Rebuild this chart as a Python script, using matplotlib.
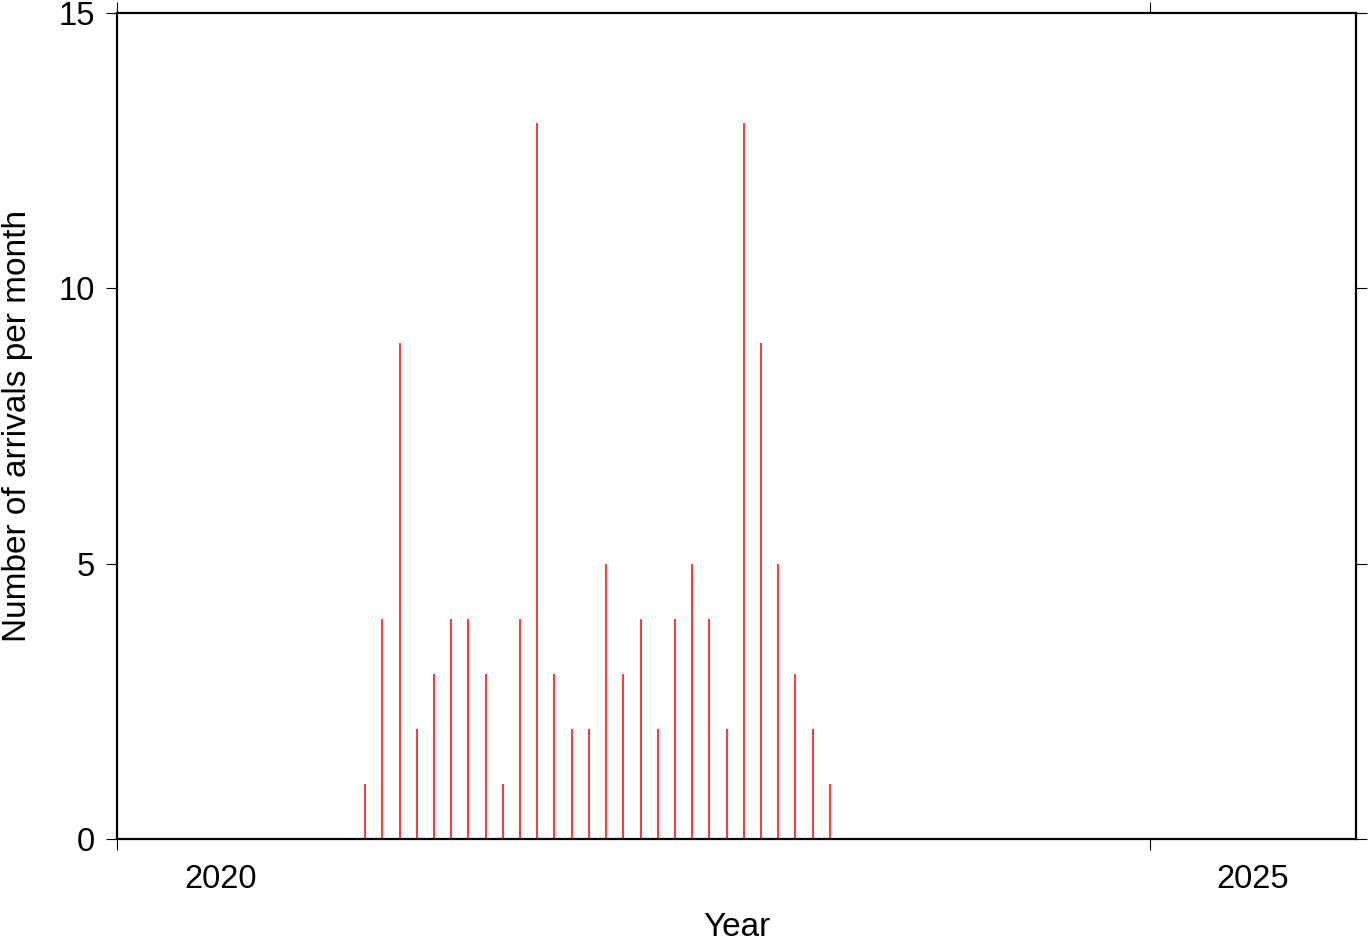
import numpy as np
import matplotlib.pyplot as plt

# monthly counts, Mar 2021 .. Jun 2023
months = ["2021-03", "2021-04", "2021-05", "2021-06", "2021-07", "2021-08", "2021-09",
          "2021-10", "2021-11", "2021-12", "2022-01", "2022-02", "2022-03", "2022-04",
          "2022-05", "2022-06", "2022-07", "2022-08", "2022-09", "2022-10", "2022-11",
          "2022-12", "2023-01", "2023-02", "2023-03", "2023-04", "2023-05", "2023-06"]
counts = [1, 4, 9, 2, 3, 4, 4, 3, 1, 4, 13, 3, 2, 2,
          5, 3, 4, 2, 4, 5, 4, 2, 13, 9, 5, 3, 2, 1]

year_ticks = [2020, 2025]
year_labels = ["2020", "2025"]

# decimal year, a bit before mid-month
x = np.array([int(m[:4]) + (int(m[5:]) - 1 + 0.42) / 12 for m in months])

plt.rcParams['font.family'] = ['Liberation Sans', 'DejaVu Sans']

fig = plt.figure(figsize=(13.69, 9.42), dpi=100)
ax = fig.add_axes([0.0855, 0.1093, 0.9050, 0.8769])

ax.vlines(x, 0, counts, colors="red", linewidth=1.1)

ax.set_xlim(2020, 2026)
ax.set_ylim(0, 15)
ax.set_yticks([0, 5, 10, 15])

# year ticks on the boundaries, labels centred in the year
ax.set_xticks(year_ticks)
ax.set_xticklabels([])
ax.set_xticks([t + 0.5 for t in year_ticks], minor=True)
ax.set_xticklabels(year_labels, minor=True)
ax.tick_params(axis="x", which="minor", length=0, pad=18, labelsize=23.5)
ax.tick_params(axis="both", which="major", direction="out", length=8, width=0.8,
               top=True, right=True, labelsize=23.5)
ax.tick_params(axis="y", pad=8)

for s in ax.spines.values():
    s.set_linewidth(1.6)

ax.set_xlabel("Year", fontsize=24, labelpad=12)
ax.set_ylabel("Number of arrivals per month", fontsize=24, labelpad=18)

plt.savefig("out.png", dpi=100)
